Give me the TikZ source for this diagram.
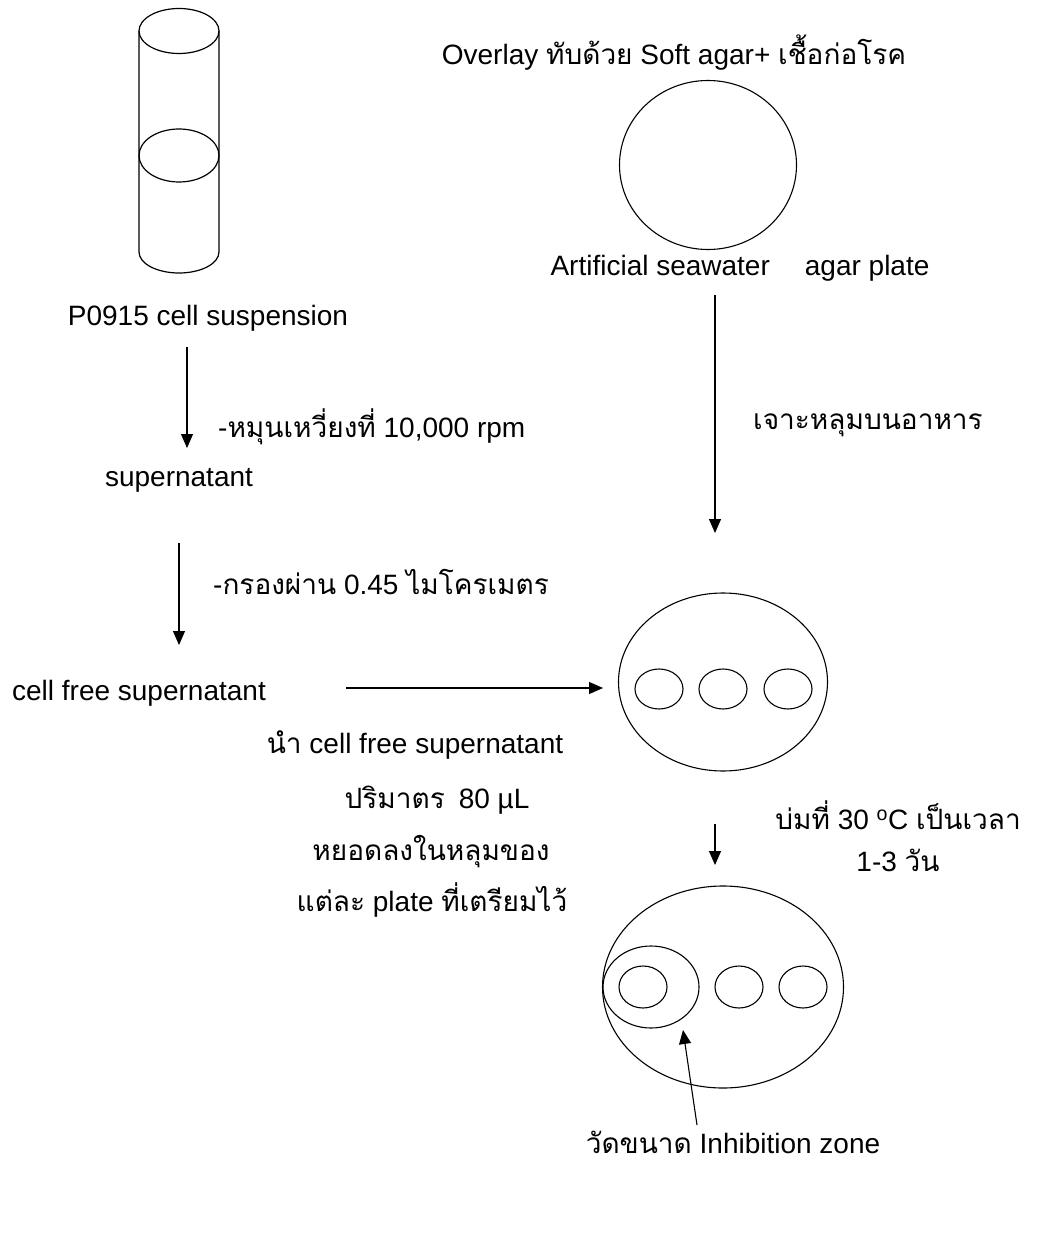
\documentclass[tikz,border=0pt]{standalone}
\usepackage{fontspec}
\setmainfont{Liberation Sans}
\newfontfamily\thai[Script=Thai]{Loma}
\usetikzlibrary{shapes.geometric,arrows.meta}
\begin{document}
\begin{tikzpicture}[x=1pt,y=-1pt,
  every node/.style={font=\fontsize{28}{32}\selectfont, inner sep=0pt},
  plate/.style={draw, ellipse, line width=1.1pt, inner sep=0pt},
  flow/.style={line width=1.1pt, -{Triangle[length=14pt,width=12pt]}},
  tube/.style={line width=1.2pt}]
\path[use as bounding box, fill=white] (0,0) rectangle (1044,1238);

% tube
\draw[tube] (139,31) -- (139,252) arc[start angle=180, end angle=360, x radius=40pt, y radius=21pt] -- (219,31);
\draw[tube] (179,31) ellipse [x radius=40pt, y radius=22.5pt];
\draw[tube] (179,155.5) ellipse [x radius=40pt, y radius=26.5pt];

% texts
\node (tp) at (208,318) {P0915 cell suspension};
\node[anchor=west] (tspin) at (218,427) {-{\thai หมุนเหวี่ยงที่} 10,000 rpm};
\node (tsup) at (179,480) {supernatant};
\node[anchor=west] (tfil) at (213,582) {-{\thai กรองผ่าน} 0.45 {\thai ไมโครเมตร}};
\node (tcfs) at (139,693) {cell free supernatant};
\node (tadd1) at (415,745) {{\thai นำ} cell free supernatant};
\node (tadd2) at (437,800) {{\thai ปริมาตร}\enspace 80 µL};
\node (tadd3) at (431,852) {{\thai หยอดลงในหลุมของ}};
\node (tadd4) at (432,900) {{\thai แต่ละ} plate {\thai ที่เตรียมไว้}};
\node (tov) at (674,53) {Overlay {\thai ทับด้วย} Soft agar+ {\thai เชื้อก่อโรค}};
\node (tasw) at (740,268) {Artificial seawater\hspace{35pt}agar plate};
\node[anchor=west] (tdrill) at (753,425) {{\thai เจาะหลุมบนอาหาร}};
\node (tinc1) at (898,815) {{\thai บ่มที่} 30 \textsuperscript{o}C {\thai เป็นเวลา}};
\node (tinc2) at (898,860) {1-3 {\thai วัน}};
\node (tmeas) at (733,1142) {{\thai วัดขนาด} Inhibition zone};

% plates
\node[plate, minimum width=177pt, minimum height=169pt] (p1) at (708,165) {};
\node[plate, minimum width=209pt, minimum height=178pt] (p2) at (723,682) {};
\node[plate, minimum width=48pt, minimum height=40pt] (h21) at (659,689) {};
\node[plate, minimum width=48pt, minimum height=40pt] (h22) at (723,689) {};
\node[plate, minimum width=48pt, minimum height=40pt] (h23) at (788,689) {};
\node[plate, minimum width=241pt, minimum height=202pt] (p3) at (723,987) {};
\node[plate, minimum width=96pt, minimum height=82pt] (zone) at (651,987) {};
\node[plate, minimum width=48pt, minimum height=42pt] (h31) at (643,987) {};
\node[plate, minimum width=48pt, minimum height=42pt] (h32) at (739,987) {};
\node[plate, minimum width=48pt, minimum height=42pt] (h33) at (803,987) {};

% arrow end points
\coordinate (a1s) at (187,347); \coordinate (a1e) at (187,448);
\coordinate (a2s) at (179,543); \coordinate (a2e) at (179,645);
\coordinate (a3s) at (346,688); \coordinate (a3e) at (603,688);
\coordinate (a4s) at (715,295); \coordinate (a4e) at (715,533);
\coordinate (a5s) at (715,824); \coordinate (a5e) at (715,865);
\coordinate (a6s) at (697,1125); \coordinate (a6e) at (683,1030);

\draw[flow] (a1s) -- (a1e);
\draw[flow] (a2s) -- (a2e);
\draw[flow] (a3s) -- (a3e);
\draw[flow] (a4s) -- (a4e);
\draw[flow] (a5s) -- (a5e);
\draw[flow] (a6s) -- (a6e);
\end{tikzpicture}
\end{document}
